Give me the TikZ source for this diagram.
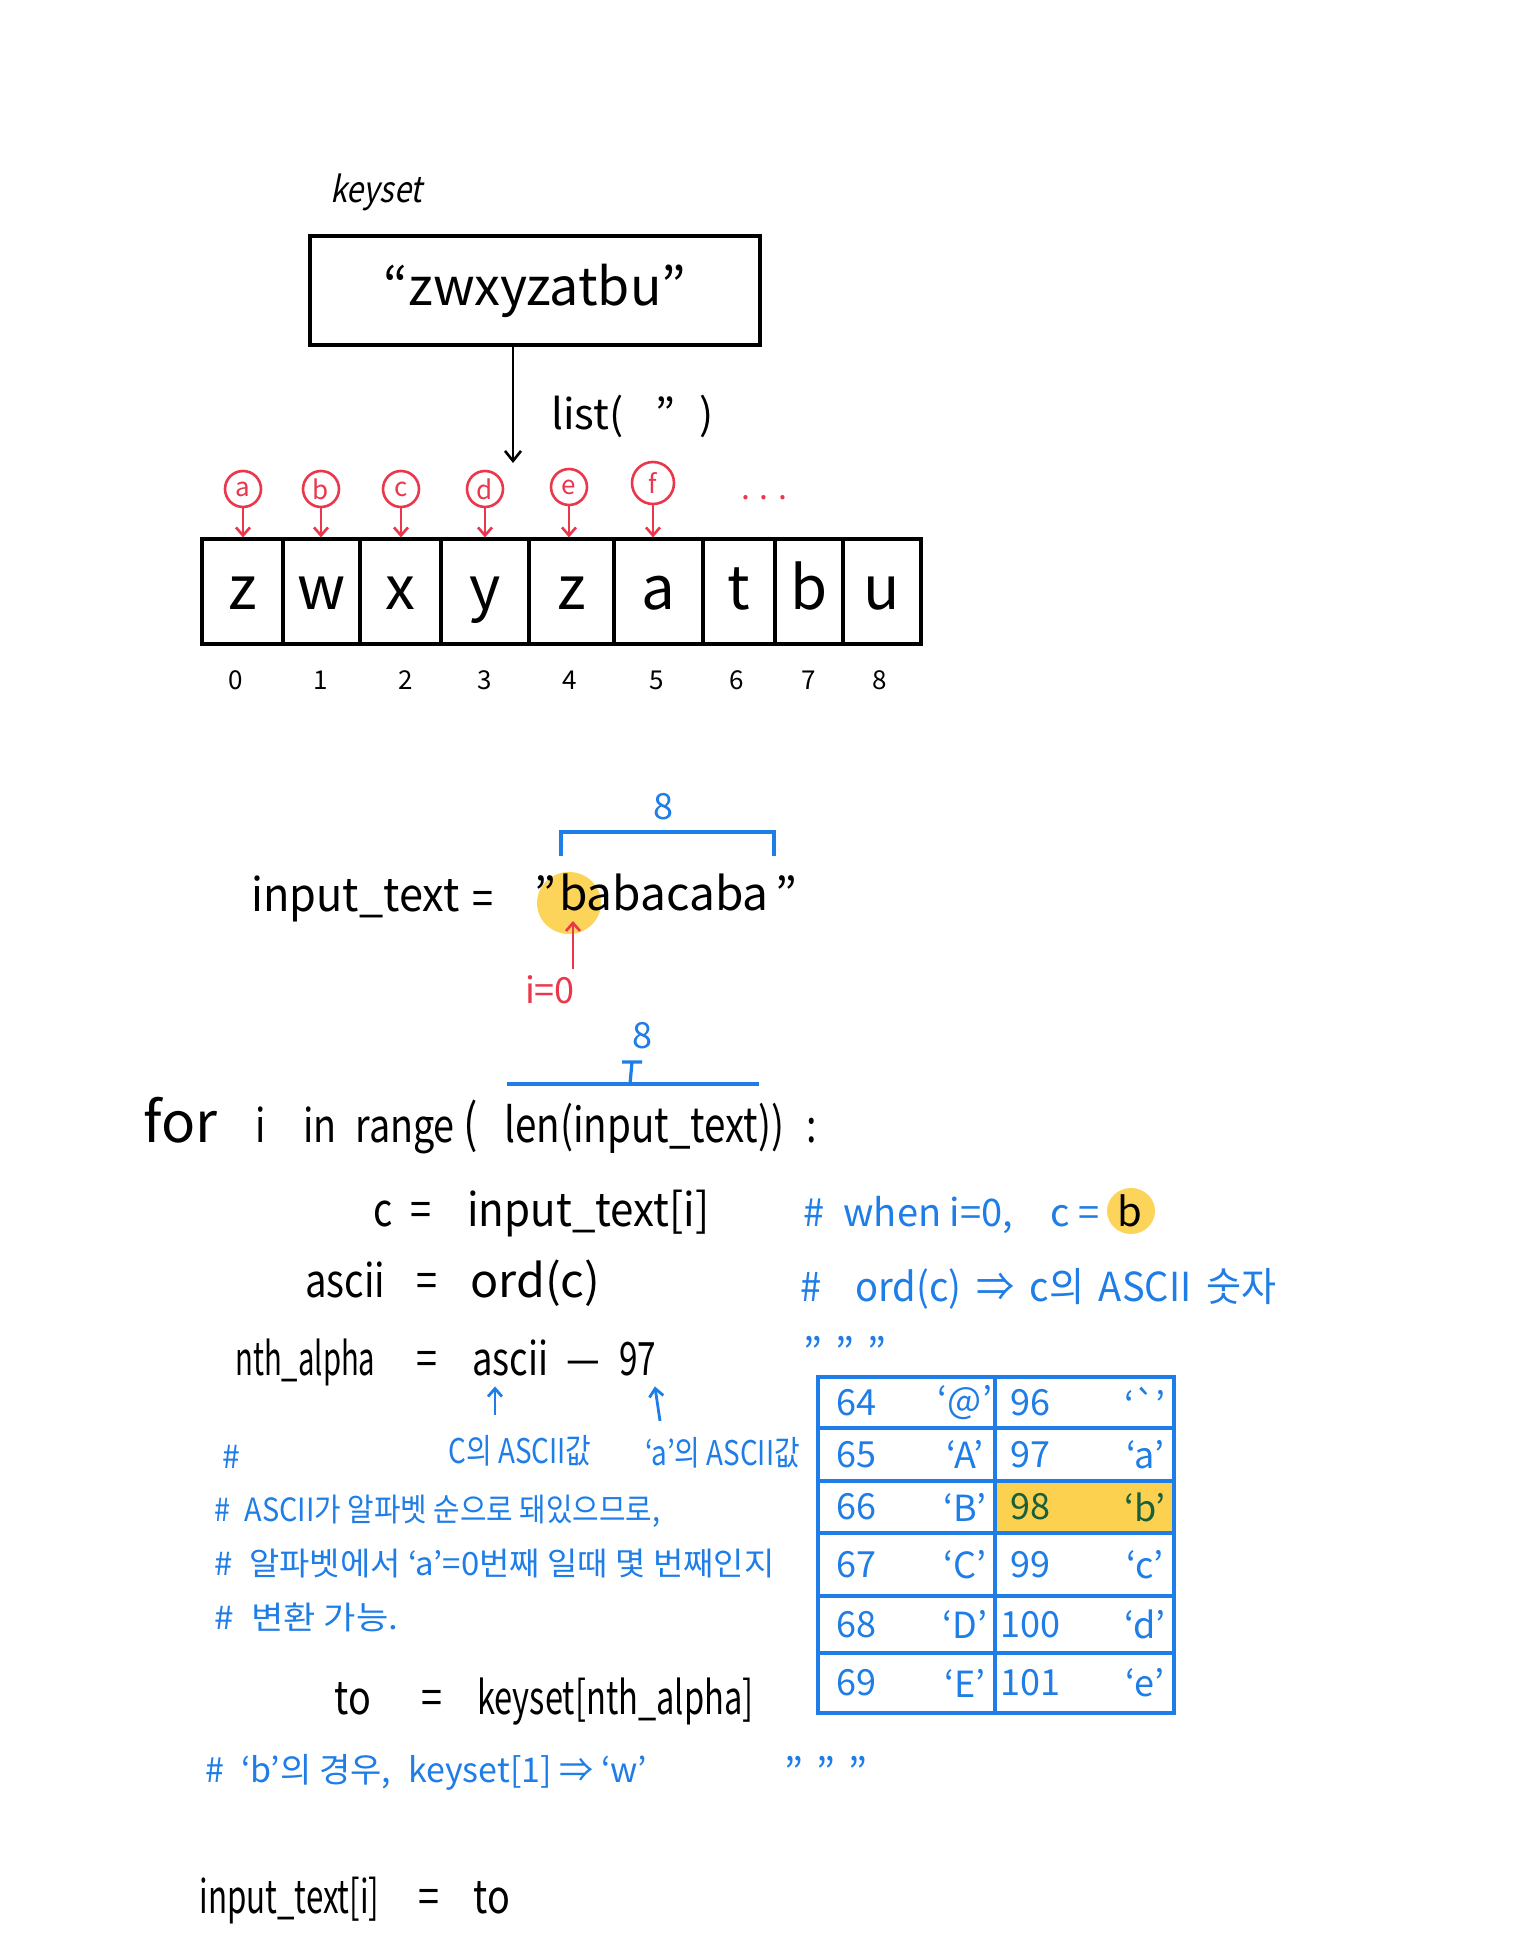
\documentclass[tikz,border=0pt]{standalone}
\usepackage{fontspec}
\setmainfont{Noto Sans CJK KR}
\newfontfamily\plainfont{Noto Sans CJK KR}
\newfontfamily\codefont{Noto Sans CJK KR}[FakeStretch=0.82]
\newfontfamily\slfont{Noto Sans CJK KR}[FakeSlant=0.2,FakeStretch=0.85]
\newcommand\fitw[2]{\resizebox{#1}{\height}{#2}}
\usetikzlibrary{arrows.meta,calc}
\definecolor{hblue}{RGB}{30,125,230}
\definecolor{hred}{RGB}{235,55,75}
\definecolor{hyel}{RGB}{252,205,60}
\definecolor{hgreen}{RGB}{25,95,60}
\begin{document}
\begin{tikzpicture}[x=0.5pt,y=-0.5pt,
  every node/.style={inner sep=0pt},
  txt/.style={anchor=mid west, yshift=-5pt, font=\codefont\fontsize{23}{27}\selectfont},
  eqs/.style={anchor=mid, yshift=-5pt, font=\codefont\fontsize{23}{27}\selectfont},
  btxt/.style={anchor=mid west, yshift=-5pt, text=hblue, font=\fontsize{19}{23}\selectfont},
  ktxt/.style={anchor=mid west, yshift=-5pt, text=hblue, font=\fontsize{16}{20}\selectfont},
  cell/.style={draw, line width=1.6pt, minimum height=52.5pt, text height=21pt, text depth=3pt, font=\fontsize{30}{34}\selectfont},
  idx/.style={font=\fontsize{13}{15}\selectfont},
  rc/.style={circle, draw=hred, line width=1.3pt, minimum size=18pt, text=hred, font=\fontsize{13}{15}\selectfont},
  rarr/.style={hred, line width=1.3pt, -{Straight Barb[length=4pt,width=7pt]}},
  barr/.style={hblue, line width=1.4pt, -{Straight Barb[length=4pt,width=7pt]}},
  karr/.style={black, line width=1.3pt, -{Straight Barb[length=5pt,width=8pt]}},
  tbl/.style={hblue, line width=2pt},
  tnum/.style={text=hblue, font=\fontsize{18}{22}\selectfont},
  blob/.style={fill=hyel, opacity=0.85}
]
\useasboundingbox (0,0) rectangle (1536,1952);
\fill[white] (0,0) rectangle (1536,1952);

% ---------- keyset box ----------
\node[txt, font=\slfont\fontsize{18}{21}\selectfont] (kslab) at (330,187) {keyset};
\node[draw, line width=1.6pt, minimum width=225pt, minimum height=54.5pt, font=\fontsize{26}{30}\selectfont] (ks) at (535,290.5) {“zwxyzatbu”};
\coordinate (arrend) at (513,463);
\draw[karr] (ks.south -| arrend) -- (arrend);
\node[txt, font=\fontsize{21}{24}\selectfont] (lst) at (551,414) {list(\hspace{16pt}”\hspace{12pt})};

% ---------- array ----------
\node[cell, minimum width=40.5pt] (c0) at (242.5,591.5) {z};
\node[cell, minimum width=38.5pt] (c1) at (321.5,591.5) {w};
\node[cell, minimum width=40.5pt] (c2) at (400.5,591.5) {x};
\node[cell, minimum width=44pt]   (c3) at (485,591.5) {y};
\node[cell, minimum width=42.5pt] (c4) at (571.5,591.5) {z};
\node[cell, minimum width=44.5pt] (c5) at (658.5,591.5) {a};
\node[cell, minimum width=36pt]   (c6) at (739,591.5) {t};
\node[cell, minimum width=34pt]   (c7) at (809,591.5) {b};
\node[cell, minimum width=39pt]   (c8) at (882,591.5) {u};

\foreach \n/\x/\t in {0/236/0,1/321/1,2/406/2,3/485/3,4/570/4,5/657/5,6/737/6,7/809/7,8/880/8}
  \node[idx] (i\n) at (\x,680) {\t};

\node[rc] (ra) at (243,489) {a};
\node[rc] (rb) at (321,489) {b};
\node[rc] (rcc) at (401,489) {c};
\node[rc] (rd) at (485,489) {d};
\node[rc] (re) at (569,487) {e};
\node[rc, minimum size=21pt] (rf) at (653,483) {f};
\foreach \r/\c in {ra/c0,rb/c1,rcc/c2,rd/c3,re/c4,rf/c5}
  \draw[rarr] (\r) -- (\r |- \c.north);
\node[text=hred, font=\fontsize{16}{18}\selectfont] (dots) at (764,498) {. . .};

% ---------- input_text ----------
\node[txt] (itx) at (251,896) {\fitw{104pt}{input\_text}};
\node[eqs] (itxeq) at (483,900) {=};
\fill[blob] (569,903) ellipse (32 and 31);
\node[font=\fontsize{23}{27}\selectfont, text height=17pt, text depth=1pt] (bab) at (664,894) {babacaba};
\node[font=\fontsize{23}{27}\selectfont, anchor=east] (q1) at ([xshift=-1pt]bab.west) {”};
\node[font=\fontsize{23}{27}\selectfont, anchor=west] (q2) at ([xshift=3pt]bab.east) {”};
\draw[hblue, line width=1.8pt] (561,856) -- (561,832) -- (774,832) -- (774,856);
\node[text=hblue, font=\fontsize{18}{22}\selectfont] (eight1) at (663,807) {8};
\node[text=hred, font=\fontsize{18}{22}\selectfont] (izero) at (550,990) {i=0};
\coordinate (iarr) at (573,921);
\draw[rarr] (izero.north -| iarr) ++(0,-6) -- (iarr);

% ---------- for loop ----------
\draw[hblue, line width=1.8pt] (507,1084) -- (759,1084);
\draw[hblue, line width=1.6pt] (630,1084) -- (632,1062) (622,1062) -- (642,1062);
\node[text=hblue, font=\fontsize{18}{22}\selectfont] (eight2) at (642,1036) {8};
\node[txt, font=\codefont\fontsize{28}{32}\selectfont] (forw) at (143,1127) {\fitw{37pt}{for}};
\node[txt] (fi) at (255,1127) {i};
\node[txt] (fin) at (303,1127) {in};
\node[txt] (frange) at (355,1127) {range};
\node[txt, font=\codefont\fontsize{26}{30}\selectfont] (fpar) at (463,1127) {(};
\node[txt, font=\codefont\fontsize{24}{28}\selectfont] (flen) at (504,1127) {\fitw{140pt}{len(input\_text))}};
\node[txt] (fcol) at (806,1127) {:};

\node[txt] (cc) at (373,1211) {c};
\node[eqs] (ceq) at (421,1211) {=};
\node[txt] (cit) at (467,1211) {\fitw{121pt}{input\_text[i]}};
\node[btxt] (cm1) at (803,1211) {\#\enspace when i=0,\quad c =};
\fill[blob] (1131,1211) ellipse (24 and 23);
\node[font=\fontsize{20}{23}\selectfont] (bb) at (1130,1211) {b};

\node[txt] (al) at (305,1282) {\fitw{40pt}{ascii}};
\node[eqs] (aeq) at (427,1282) {=};
\node[txt] (aord) at (470,1282) {\fitw{65pt}{ord(c)}};
\node[btxt, font=\fontsize{20}{24}\selectfont] (cm2) at (800,1286) {\fitw{238pt}{\#\enspace\, ord(c)\, ⇒\, c의\, ASCII\, 숫자}};
\node[btxt, font=\fontsize{20}{24}\selectfont] (tq1) at (803,1352) {"\,\,"\,\,"};

\node[txt] (nth) at (235,1360) {\fitw{70pt}{nth\_alpha}};
\node[eqs] (eq3) at (427,1360) {=};
\node[txt] (asc) at (472,1360) {\fitw{38pt}{ascii}};
\node[eqs] (dsh) at (583,1360) {—};
\node[txt] (n97) at (619,1360) {\fitw{18.5pt}{97}};

\node[ktxt, font=\codefont\fontsize{17}{20}\selectfont] (lab1) at (448,1448) {C의 ASCII값};
\node[ktxt, font=\codefont\fontsize{17}{20}\selectfont] (lab2) at (645,1450) {‘a’의 ASCII값};
\coordinate (a1) at (495,0);
\draw[barr, shorten <=10pt, shorten >=5pt] (lab1.north -| a1) -- (asc.south -| a1);
\draw[barr] ($(lab2.north west)+(15,-16)$) -- ($(n97.south)+(17,10)$);

\node[ktxt] (h0) at (222,1453) {\#};
\node[ktxt] (k1) at (214,1506) {\fitw{223pt}{\#\enspace ASCII가 알파벳 순으로 돼있으므로,}};
\node[ktxt] (k2) at (214,1560) {\fitw{280pt}{\#\enspace 알파벳에서 ‘a’=0번째 일때 몇 번째인지}};
\node[ktxt] (k3) at (214,1614) {\fitw{92pt}{\#\enspace 변환 가능.}};

% ---------- ASCII table ----------
\fill[hyel, opacity=0.9] (995,1481) rectangle (1174,1533);
\draw[tbl] (818,1377) rectangle (1174,1713);
\foreach \y in {1428,1481,1533,1596,1653} \draw[tbl] (818,\y) -- (1174,\y);
\draw[tbl] (995,1377) -- (995,1713);
\foreach \nm/\y/\a/\b/\c/\d in {
  r1/1402.5/64/@/96/{\plainfont `},
  r2/1454.5/65/A/97/a,
  r4/1564.5/67/C/99/c,
  r5/1624.5/68/D/100/d,
  r6/1683/69/E/101/e}{
  \node[tnum] (\nm a) at (856,\y) {\a};
  \node[tnum] (\nm b) at (965,\y) {‘\b’};
  \node[tnum] (\nm c) at (1030,\y) {\c};
  \node[tnum] (\nm d) at (1145,\y) {‘\d’};
}
\node[tnum] (r3a) at (856,1507) {66};
\node[tnum] (r3b) at (965,1507) {‘B’};
\node[tnum, text=hgreen] (r3c) at (1030,1507) {98};
\node[tnum, text=hgreen] (r3d) at (1145,1507) {‘b’};

% ---------- to ----------
\node[txt] (tol) at (334,1699) {to};
\node[eqs] (teq) at (432,1699) {=};
\node[txt] (tks) at (477,1699) {\fitw{138pt}{keyset[nth\_alpha]}};
\node[ktxt, font=\fontsize{17}{20}\selectfont] (cm3) at (205,1767) {\#\enspace ‘b’의 경우,\enspace keyset[1] ⇒ ‘w’};
\node[btxt, font=\fontsize{20}{24}\selectfont] (tq2) at (784,1772) {"\,\,"\,\,"};

\node[txt] (lit) at (199,1898) {\fitw{90pt}{input\_text[i]}};
\node[eqs] (leq) at (429,1898) {=};
\node[txt] (lto) at (473,1898) {to};
\end{tikzpicture}
\end{document}
